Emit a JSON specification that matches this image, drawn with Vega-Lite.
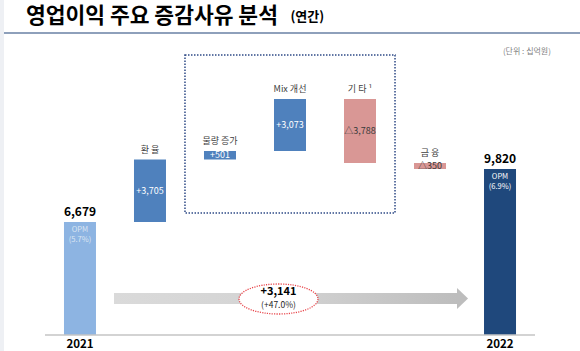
{
  "$schema": "https://vega.github.io/schema/vega-lite/v6.json",
  "width": 580,
  "height": 335,
  "autosize": {"type": "none"},
  "padding": {"left": 0, "top": 0, "right": 0, "bottom": 16},
  "background": "white",
  "config": {"view": {"stroke": null}, "font": "Noto Sans CJK KR"},
  "datasets": {
    "bars": [
      {"cat": "2021", "label": "", "low": 0, "high": 6679, "value_label": "6,679", "inner": "", "opm": "OPM\n(5.7%)", "kind": "total"},
      {"cat": "환율", "label": "환 율", "low": 6679, "high": 10384, "value_label": "", "inner": "+3,705", "opm": "", "kind": "up"},
      {"cat": "물량 증가", "label": "물량 증가", "low": 10384, "high": 10885, "value_label": "", "inner": "+501", "opm": "", "kind": "up"},
      {"cat": "Mix 개선", "label": "Mix 개선", "low": 10885, "high": 13958, "value_label": "", "inner": "+3,073", "opm": "", "kind": "up"},
      {"cat": "기타", "label": "기 타 ¹", "low": 10170, "high": 13958, "value_label": "", "inner": "△3,788", "opm": "", "kind": "down"},
      {"cat": "금융", "label": "금 융", "low": 9820, "high": 10170, "value_label": "", "inner": "△350", "opm": "", "kind": "down"},
      {"cat": "2022", "label": "", "low": 0, "high": 9820, "value_label": "9,820", "inner": "", "opm": "OPM\n(6.9%)", "kind": "final"}
    ]
  },
  "data": {"name": "bars"},
  "layer": [
    {
      "mark": {"type": "bar"},
      "encoding": {
        "x": {
          "field": "cat",
          "type": "nominal",
          "sort": null,
          "scale": {
            "domain": ["2021", "환율", "물량 증가", "Mix 개선", "기타", "금융", "2022"],
            "paddingInner": 0.5429,
            "paddingOuter": 0.914
          },
          "axis": {
            "title": null,
            "domain": false,
            "ticks": false,
            "grid": false,
            "labelAngle": 0,
            "labelExpr": "datum.label == '2021' || datum.label == '2022' ? datum.label : ''",
            "labelFont": "Noto Sans CJK KR",
            "labelFontSize": 11.5,
            "labelFontWeight": "bold",
            "labelColor": "#000000",
            "labelPadding": 3
          }
        },
        "y": {
          "field": "low",
          "type": "quantitative",
          "scale": {"domain": [0, 19822], "nice": false, "zero": false},
          "axis": null
        },
        "y2": {"field": "high"},
        "color": {
          "field": "kind",
          "type": "nominal",
          "scale": {"domain": ["total", "up", "down", "final"], "range": ["#8db4e2", "#4f81bd", "#d99795", "#1f487c"]},
          "legend": null
        }
      }
    },
    {
      "data": {"values": [{}]},
      "mark": {"type": "rect", "color": "#eef0f4"},
      "encoding": {
        "x": {"datum": "2021", "type": "nominal", "bandPosition": -2},
        "x2": {"datum": "2021", "bandPosition": -1.875},
        "y": {"datum": -1000, "type": "quantitative"},
        "y2": {"datum": 21000}
      }
    },
    {
      "data": {"values": [{}]},
      "mark": {"type": "rule", "color": "#8ea0bb", "strokeWidth": 2},
      "encoding": {
        "x": {"datum": "2021", "type": "nominal", "bandPosition": -1.875},
        "x2": {"datum": "2022", "bandPosition": 3.0},
        "y": {"datum": 17870, "type": "quantitative"}
      }
    },
    {
      "data": {"values": [{"t": "영업이익 주요 증감사유 분석"}]},
      "mark": {"type": "text", "fontSize": 21.5, "fontWeight": "bold", "color": "#000000", "baseline": "middle", "align": "left"},
      "encoding": {
        "x": {"datum": "2021", "type": "nominal", "bandPosition": -1.19},
        "y": {"datum": 18830, "type": "quantitative"},
        "text": {"field": "t"}
      }
    },
    {
      "data": {"values": [{"t": "(연간)"}]},
      "mark": {"type": "text", "fontSize": 13, "fontWeight": "bold", "color": "#000000", "baseline": "middle", "align": "left"},
      "encoding": {
        "x": {"datum": "물량 증가", "type": "nominal", "bandPosition": 2.7},
        "y": {"datum": 18800, "type": "quantitative"},
        "text": {"field": "t"}
      }
    },
    {
      "data": {"values": [{}]},
      "mark": {"type": "rule", "color": "#c4c4c4", "strokeWidth": 1.5},
      "encoding": {
        "x": {"datum": "2021", "type": "nominal", "bandPosition": -0.594},
        "x2": {"datum": "2022", "bandPosition": 1.594},
        "y": {"datum": 0, "type": "quantitative"}
      }
    },
    {
      "data": {"values": [{}]},
      "mark": {"type": "rect", "fill": null, "stroke": "#2e4a86", "strokeWidth": 1.5, "strokeDash": [1.5, 1.5]},
      "encoding": {
        "x": {"datum": "물량 증가", "type": "nominal", "bandPosition": -0.594},
        "x2": {"datum": "기타", "bandPosition": 1.594},
        "y": {"datum": 7219, "type": "quantitative"},
        "y2": {"datum": 16568}
      }
    },
    {
      "data": {"values": [{}]},
      "mark": {
        "type": "rect",
        "color": {
          "gradient": "linear", "x1": 0, "x2": 1, "y1": 0, "y2": 0,
          "stops": [{"offset": 0, "color": "#dadada"}, {"offset": 0.5, "color": "#d3d3d3"}, {"offset": 1, "color": "#bdbdbd"}]
        }
      },
      "encoding": {
        "x": {"datum": "환율", "type": "nominal", "bandPosition": -0.625},
        "x2": {"datum": "금융", "bandPosition": 1.36},
        "y": {"datum": 1834, "type": "quantitative"},
        "y2": {"datum": 2485}
      }
    },
    {
      "data": {"values": [{}]},
      "mark": {"type": "point", "filled": true, "color": "#bdbdbd", "opacity": 1, "size": 441, "shape": "M -0.5 -1 L 0.55 0 L -0.5 1 Z"},
      "encoding": {
        "x": {"datum": "금융", "type": "nominal", "bandPosition": 1.508},
        "y": {"datum": 2160, "type": "quantitative"}
      }
    },
    {
      "data": {"values": [{}]},
      "mark": {
        "type": "point", "filled": false, "fill": "#ffffff", "fillOpacity": 1, "opacity": 1,
        "stroke": "#e8474c", "strokeWidth": 1.3, "strokeDash": [1.2, 1.2],
        "size": 6241,
        "shape": "M 1 0 C 1 0.2099 0.5523 0.38 0 0.38 C -0.5523 0.38 -1 0.2099 -1 0 C -1 -0.2099 -0.5523 -0.38 0 -0.38 C 0.5523 -0.38 1 -0.2099 1 0 Z"
      },
      "encoding": {
        "x": {"datum": "Mix 개선", "type": "nominal", "bandPosition": 0.14},
        "y": {"datum": 2130, "type": "quantitative"}
      }
    },
    {
      "data": {"values": [{"t": "+3,141"}]},
      "mark": {"type": "text", "fontSize": 11, "fontWeight": "bold", "color": "#000000", "baseline": "middle"},
      "encoding": {
        "x": {"datum": "Mix 개선", "type": "nominal", "bandPosition": 0.14},
        "y": {"datum": 2544, "type": "quantitative"},
        "text": {"field": "t"}
      }
    },
    {
      "data": {"values": [{"t": "(+47.0%)"}]},
      "mark": {"type": "text", "fontSize": 8.5, "color": "#262626", "baseline": "middle"},
      "encoding": {
        "x": {"datum": "Mix 개선", "type": "nominal", "bandPosition": 0.14},
        "y": {"datum": 1800, "type": "quantitative"},
        "text": {"field": "t"}
      }
    },
    {
      "data": {"values": [{"t": "(단위 : 십억원)"}]},
      "mark": {"type": "text", "fontSize": 8, "color": "#7f7f7f", "baseline": "middle", "align": "center"},
      "encoding": {
        "x": {"datum": "2022", "type": "nominal", "bandPosition": 1.34},
        "y": {"datum": 16746, "type": "quantitative"},
        "text": {"field": "t"}
      }
    },
    {
      "transform": [{"filter": "datum.kind == 'up' || datum.kind == 'down'"}],
      "mark": {"type": "text", "fontSize": 9, "color": "#404040", "baseline": "bottom", "dy": -5},
      "encoding": {
        "x": {"field": "cat", "type": "nominal"},
        "y": {"field": "high", "type": "quantitative"},
        "text": {"field": "label"}
      }
    },
    {
      "transform": [{"filter": "datum.kind == 'total' || datum.kind == 'final'"}],
      "mark": {"type": "text", "fontSize": 12, "fontWeight": "bold", "color": "#000000", "baseline": "bottom", "dy": -3},
      "encoding": {
        "x": {"field": "cat", "type": "nominal"},
        "y": {"field": "high", "type": "quantitative"},
        "text": {"field": "value_label"}
      }
    },
    {
      "transform": [
        {"filter": "datum.kind == 'up' || datum.kind == 'down'"},
        {"fold": ["low", "high"], "as": ["k", "v"]},
        {"aggregate": [{"op": "mean", "field": "v", "as": "mid"}], "groupby": ["cat", "inner", "kind"]}
      ],
      "mark": {"type": "text", "fontSize": 9, "baseline": "middle"},
      "encoding": {
        "x": {"field": "cat", "type": "nominal"},
        "y": {"field": "mid", "type": "quantitative"},
        "text": {"field": "inner"},
        "color": {
          "condition": {"test": "datum.kind == 'up'", "value": "#ffffff"},
          "value": "#3a3a3a"
        }
      }
    },
    {
      "transform": [{"filter": "datum.kind == 'total' || datum.kind == 'final'"}],
      "mark": {"type": "text", "fontSize": 7.5, "baseline": "top", "dy": 4, "lineBreak": "\n", "lineHeight": 10},
      "encoding": {
        "x": {"field": "cat", "type": "nominal"},
        "y": {"field": "high", "type": "quantitative"},
        "text": {"field": "opm"},
        "color": {
          "condition": {"test": "datum.kind == 'final'", "value": "#ffffff"},
          "value": "#dce6f2"
        }
      }
    }
  ]
}
